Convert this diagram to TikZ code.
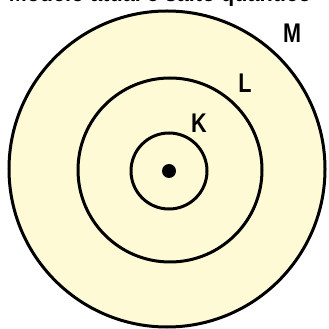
\documentclass[tikz,border=0pt]{standalone}
\usepackage{fontspec}
\setmainfont{Liberation Sans}
\definecolor{shellfill}{RGB}{255,250,214}
\begin{document}
\begin{tikzpicture}[x=1pt,y=1pt,
  shell/.style={circle,draw=black,line width=3pt,fill=shellfill,inner sep=0pt},
  lab/.style={font=\fontsize{27}{27}\selectfont\bfseries,xscale=0.8,inner sep=0pt}]
\useasboundingbox (0,0) rectangle (329,329);
\node[shell,minimum size=316pt] (M) at (167,160) {};
\node[shell,minimum size=184pt] (L) at (170,159) {};
\node[shell,minimum size=76pt] (K) at (169,158) {};
\node[circle,fill=black,minimum size=14pt,inner sep=0pt] (nuc) at (169,158) {};
\node[lab] (mlab) at (292,296) {M};
\node[lab] (llab) at (245,246) {L};
\node[lab] (klab) at (199,206) {K};
\node[anchor=base,font=\fontsize{24}{24}\selectfont\bfseries,inner sep=0pt,xscale=0.9] (title) at (160,327) {Modelo atual e salto quântico};
\end{tikzpicture}
\end{document}
